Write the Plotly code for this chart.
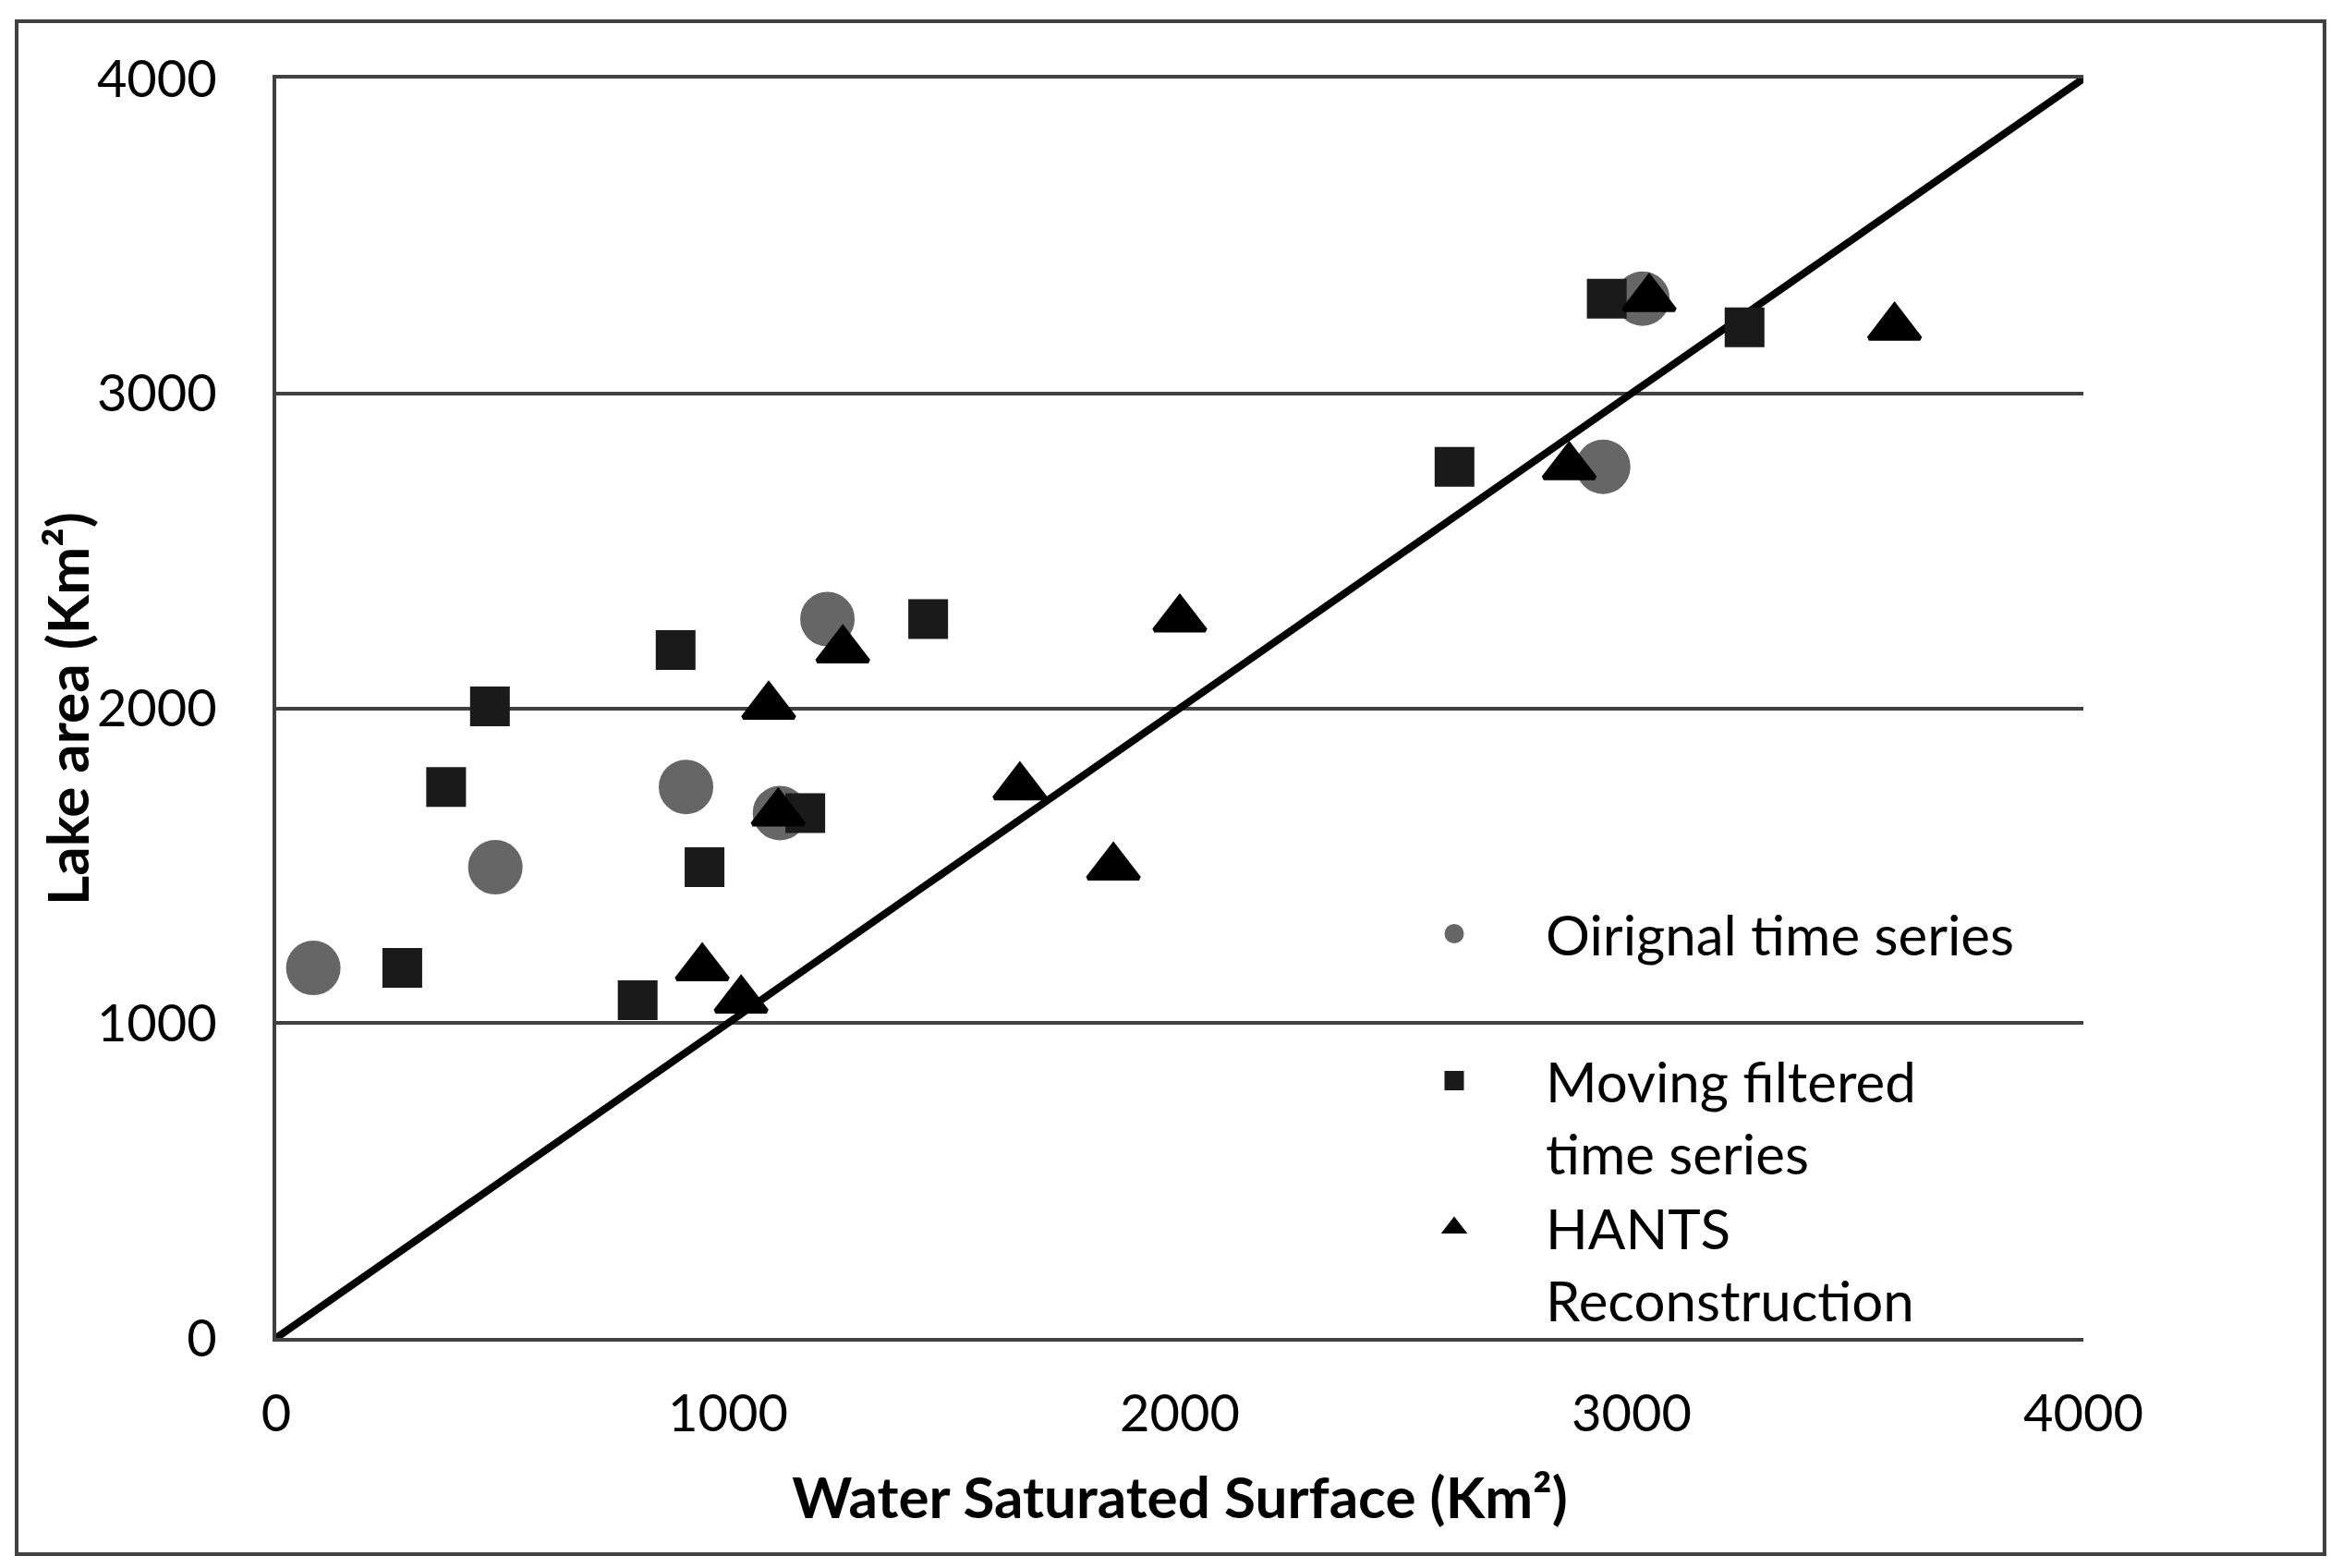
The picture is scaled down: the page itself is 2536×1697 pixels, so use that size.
import plotly.graph_objects as go

# Lake area values (y) shared by the three series (Km²)
lake_area = [1073, 1175, 1495, 1667, 1750, 2006, 2185, 2283, 2767, 3210, 3301]

# Water saturated surface (x) for each series (None = no point)
original_x = [None, 82, 485, 1115, 907, None, None, 1220, 2937, None, 3024]
moving_x = [800, 279, 948, 1171, 376, 473, 884, 1443, 2608, 3250, 2945]
hants_x = [1029, 943, 1853, 1111, 1646, 1090, 1254, 2000, 2862, 3582, 3039]

# 1:1 reference line
ref_line = [0, 4000]

ticks = [0, 1000, 2000, 3000, 4000]

FONT = "Lato"
GRID = "#404040"

fig = go.Figure()

fig.add_trace(go.Scatter(
    x=ref_line, y=ref_line, mode="lines",
    line=dict(color="black", width=8),
    showlegend=False, hoverinfo="skip",
))

fig.add_trace(go.Scatter(
    x=original_x, y=lake_area, mode="markers",
    name="Oirignal time series<br> ",
    marker=dict(symbol="circle", size=54, color="#666666",
                line=dict(color="#666666", width=5)),
))
fig.add_trace(go.Scatter(
    x=moving_x, y=lake_area, mode="markers",
    name="Moving filtered<br>time series",
    marker=dict(symbol="square", size=38, color="#1a1a1a",
                line=dict(color="#1a1a1a", width=5)),
))
fig.add_trace(go.Scatter(
    x=hants_x, y=lake_area, mode="markers",
    name="HANTS<br>Reconstruction",
    marker=dict(symbol="triangle-up", size=48, color="#000000",
                line=dict(color="#000000", width=5)),
))

OFF = 8  # page offset of the figure inside the browser body
W, H = 2536 - 2 * OFF, 1697 - 2 * OFF
# plot area in page pixels
L, R, T, B = 299 - OFF, 2255 - OFF, 85 - OFF, 1448 - OFF
pw, ph = R - L, B - T


def px(xp):
    return (xp - OFF - L) / pw


def py(yp):
    return (B - (yp - OFF)) / ph


ITEMW = 188

fig.update_layout(
    width=W, height=H,
    margin=dict(l=L, r=W - R, t=T, b=H - B, pad=0),
    paper_bgcolor="white", plot_bgcolor="white",
    font=dict(family=FONT, size=56, color="black"),
    xaxis=dict(
        range=[0, 4000], tickvals=ticks, ticktext=[str(t) for t in ticks],
        showgrid=False, zeroline=False,
        showline=True, mirror=True, linecolor=GRID, linewidth=4,
        ticks="", ticklabelstandoff=30,
        tickfont=dict(family=FONT, size=56, color="black"),
        title=dict(text="Water Saturated Surface (Km²)",
                   font=dict(family=FONT, size=62, color="black", weight="bold"),
                   standoff=40),
    ),
    yaxis=dict(
        range=[0, 4000], tickvals=ticks, ticktext=[str(t) for t in ticks],
        showgrid=True, gridcolor=GRID, gridwidth=4, zeroline=False,
        showline=True, linecolor=GRID, linewidth=4,
        ticks="", ticklabelstandoff=49,
        tickfont=dict(family=FONT, size=56, color="black"),
    ),
    legend=dict(
        x=px(1574 - (ITEMW + 10) / 2), y=py(965), xanchor="left", yanchor="top",
        bgcolor="rgba(0,0,0,0)", borderwidth=0,
        font=dict(family=FONT, size=60, color="black"),
        valign="top", itemwidth=ITEMW, tracegroupgap=0,
    ),
    annotations=[dict(
        text="Lake area (Km²)", textangle=-90, showarrow=False,
        xref="paper", yref="paper", x=px(72), y=py(767),
        xanchor="center", yanchor="middle",
        font=dict(family=FONT, size=62, color="black", weight="bold"),
    )],
    shapes=[dict(
        type="rect", xref="paper", yref="paper",
        x0=px(18), x1=px(2516), y0=py(1682), y1=py(23),
        line=dict(color=GRID, width=4), fillcolor="rgba(0,0,0,0)", layer="below",
    )],
)

fig.write_html("out.html")
